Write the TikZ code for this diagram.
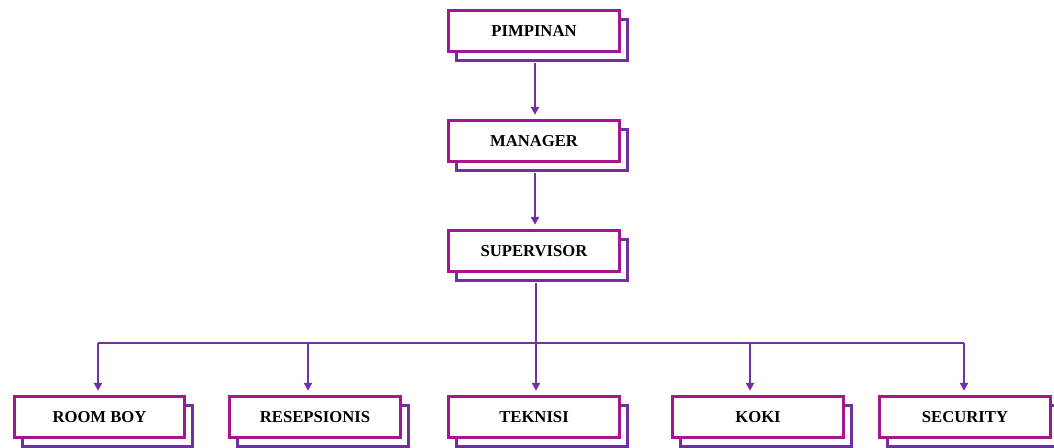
\documentclass[tikz,border=0pt]{standalone}
\usepackage{fontspec}
\setmainfont{Liberation Serif}
\usetikzlibrary{shadows,arrows.meta}
\definecolor{frontc}{RGB}{163,22,143}
\definecolor{backc}{RGB}{112,48,160}
\tikzset{
  orgbox/.style={draw=frontc, line width=2.25pt, fill=white,
    minimum width=128pt, minimum height=31pt, inner sep=0pt,
    font=\fontsize{12.5}{14}\selectfont\bfseries,
    general shadow={shadow xshift=6pt, shadow yshift=-6.75pt, draw=backc, line width=2.25pt, fill=white}},
  conn/.style={draw=backc, line width=1.7pt},
  arr/.style={conn, -{Triangle[width=6pt,length=6pt]}, shorten >=3pt},
}
\begin{document}
\begin{tikzpicture}[x=0.75pt,y=-0.75pt]
\useasboundingbox (0,0) rectangle (1054,448);
\clip (0,0) rectangle (1054,448);
\fill[white] (0,0) rectangle (1054,448);
\node[orgbox] (pim) at (534,31) {PIMPINAN};
\node[orgbox] (man) at (534,141) {MANAGER};
\node[orgbox] (sup) at (534,251) {SUPERVISOR};
\node[orgbox] (room) at (99.5,417) {ROOM BOY};
\node[orgbox] (res) at (315,417) {RESEPSIONIS};
\node[orgbox] (tek) at (534,417) {TEKNISI};
\node[orgbox] (koki) at (758,417) {KOKI};
\node[orgbox] (sec) at (965,417) {SECURITY};
% connectors
\draw[arr] ([xshift=0.75pt,yshift=-7.5pt]pim.south) -- ([xshift=0.75pt]man.north);
\draw[arr] ([xshift=0.75pt,yshift=-7.5pt]man.south) -- ([xshift=0.75pt]sup.north);
\coordinate (b1) at (98,343);
\coordinate (b2) at (308,343);
\coordinate (b3) at (536,343);
\coordinate (b4) at (750,343);
\coordinate (b5) at (964,343);
\coordinate (s0) at (536,283);
\draw[conn] (s0) -- (b3);
\draw[conn] (b1) -- (b5);
\draw[arr] (b1) -- (b1 |- room.north);
\draw[arr] (b2) -- (b2 |- res.north);
\draw[arr] (b3) -- (b3 |- tek.north);
\draw[arr] (b4) -- (b4 |- koki.north);
\draw[arr] (b5) -- (b5 |- sec.north);
\end{tikzpicture}
\end{document}
